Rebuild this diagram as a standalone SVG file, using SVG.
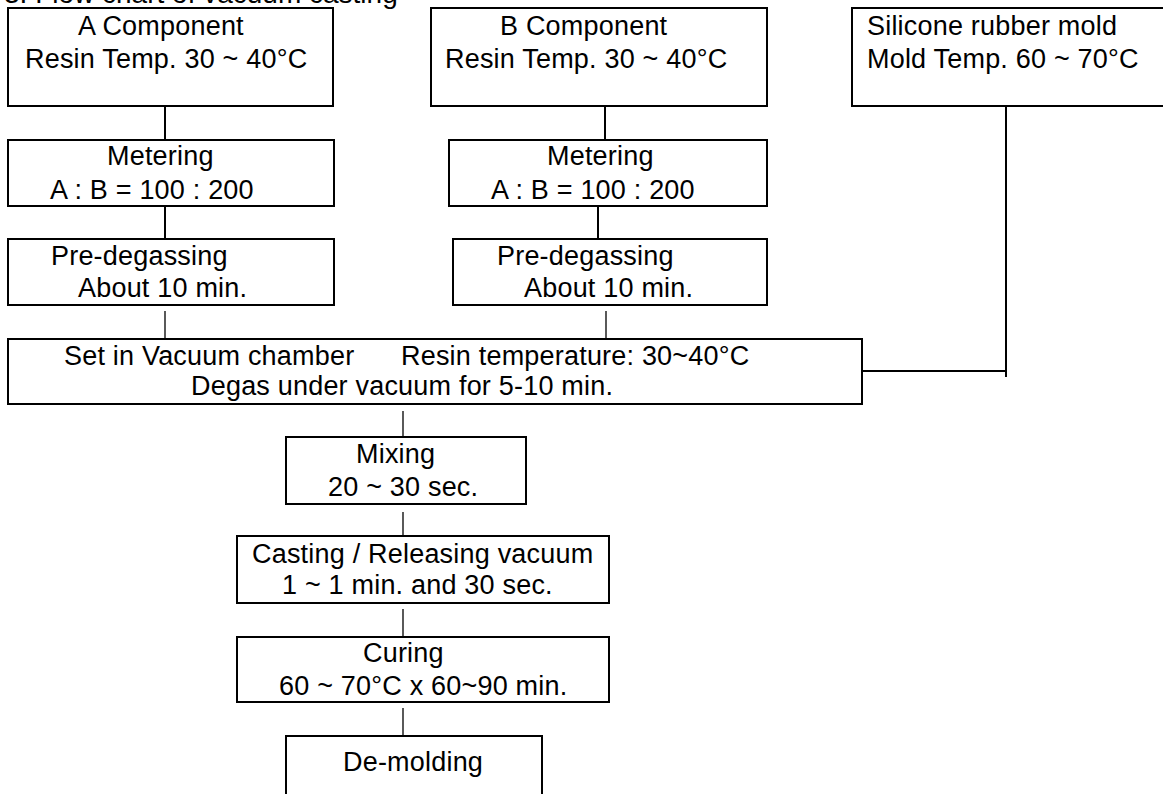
<svg xmlns="http://www.w3.org/2000/svg" width="1163" height="794" viewBox="0 0 1163 794">
<style>
.box{fill:#fff;stroke:#000;stroke-width:2}
.t{font-family:"Liberation Sans",Arial,sans-serif;font-size:27px;letter-spacing:0.2px;fill:#000;white-space:pre}
.c{stroke:#000;fill:none}
.c2{stroke-width:2}
.c1{stroke-width:1.3}
</style>
<rect width="1163" height="794" fill="#fff"/>
<text class="t" x="4" y="3" style="font-size:28px;letter-spacing:0">3. Flow chart of vacuum casting</text>
<g id="connectors" class="c">
<line class="c2" x1="165" y1="106" x2="165" y2="140"/>
<line class="c2" x1="165" y1="206" x2="165" y2="239"/>
<line class="c1" x1="165" y1="311" x2="165" y2="338"/>
<line class="c2" x1="605" y1="106" x2="605" y2="140"/>
<line class="c2" x1="598" y1="206" x2="598" y2="239"/>
<line class="c1" x1="606" y1="311" x2="606" y2="338"/>
<line class="c2" x1="1006" y1="106" x2="1006" y2="377"/>
<line class="c2" x1="862" y1="371" x2="1006" y2="371"/>
<line class="c1" x1="403" y1="411" x2="403" y2="437"/>
<line class="c1" x1="403" y1="512" x2="403" y2="536"/>
<line class="c1" x1="403" y1="609" x2="403" y2="637"/>
<line class="c1" x1="403" y1="708" x2="403" y2="736"/>
</g>
<g id="a-component">
<rect class="box" x="8" y="8" width="325" height="98"/>
<text class="t" x="78" y="35">A Component</text>
<text class="t" x="25" y="68">Resin Temp. 30 ~ 40°C</text>
</g>
<g id="b-component">
<rect class="box" x="431" y="8" width="336" height="98"/>
<text class="t" x="500" y="35">B Component</text>
<text class="t" x="445" y="68">Resin Temp. 30 ~ 40°C</text>
</g>
<g id="silicone-mold">
<rect class="box" x="852" y="8" width="320" height="98"/>
<text class="t" x="867" y="35">Silicone rubber mold</text>
<text class="t" x="867" y="68">Mold Temp. 60 ~ 70°C</text>
</g>
<g id="metering-a">
<rect class="box" x="8" y="140" width="326" height="66"/>
<text class="t" x="107" y="165">Metering</text>
<text class="t" x="50" y="199">A : B = 100 : 200</text>
</g>
<g id="metering-b">
<rect class="box" x="449" y="140" width="318" height="66"/>
<text class="t" x="547" y="165">Metering</text>
<text class="t" x="491" y="199">A : B = 100 : 200</text>
</g>
<g id="predegassing-a">
<rect class="box" x="8" y="239" width="326" height="66"/>
<text class="t" x="51" y="265">Pre-degassing</text>
<text class="t" x="78" y="297">About 10 min.</text>
</g>
<g id="predegassing-b">
<rect class="box" x="453" y="239" width="314" height="66"/>
<text class="t" x="497" y="265">Pre-degassing</text>
<text class="t" x="524" y="297">About 10 min.</text>
</g>
<g id="vacuum-chamber">
<rect class="box" x="8" y="339" width="854" height="65"/>
<text class="t" x="64" y="365">Set in Vacuum chamber</text>
<text class="t" x="401" y="365">Resin temperature: 30~40°C</text>
<text class="t" x="191" y="395">Degas under vacuum for 5-10 min.</text>
</g>
<g id="mixing">
<rect class="box" x="286" y="437" width="240" height="67"/>
<text class="t" x="356" y="463">Mixing</text>
<text class="t" x="328" y="496">20 ~ 30 sec.</text>
</g>
<g id="casting">
<rect class="box" x="237" y="536" width="372" height="67"/>
<text class="t" x="252" y="563">Casting / Releasing vacuum</text>
<text class="t" x="282" y="594">1 ~ 1 min. and 30 sec.</text>
</g>
<g id="curing">
<rect class="box" x="237" y="637" width="372" height="65"/>
<text class="t" x="363" y="662">Curing</text>
<text class="t" x="279" y="695">60 ~ 70°C x 60~90 min.</text>
</g>
<g id="demolding">
<rect class="box" x="286" y="736" width="256" height="70"/>
<text class="t" x="343" y="771">De-molding</text>
</g>
</svg>
